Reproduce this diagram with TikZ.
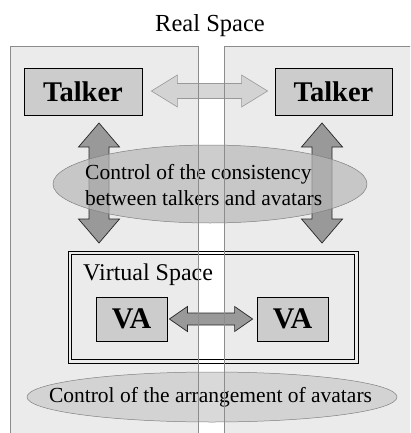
\documentclass[tikz,border=0pt]{standalone}
\usepackage{fontspec}
\setmainfont{Liberation Serif}
\usetikzlibrary{shapes.geometric,calc}

% horizontal two-headed block arrow: options, left tip, right tip,
% half shaft width, half head width, head length
\newcommand\harrow[6]{%
  \draw[#1] (#2) -- ($(#2)+(#6,#5)$) -- ($(#2)+(#6,#4)$) -- ($(#3)+(-#6,#4)$)
    -- ($(#3)+(-#6,#5)$) -- (#3) -- ($(#3)+(-#6,-#5)$) -- ($(#3)+(-#6,-#4)$)
    -- ($(#2)+(#6,-#4)$) -- ($(#2)+(#6,-#5)$) -- cycle;}
% vertical two-headed block arrow: options, top tip, bottom tip,
% half shaft width, half head width, head length
\newcommand\varrow[6]{%
  \draw[#1] (#2) -- ($(#2)+(#5,#6)$) -- ($(#2)+(#4,#6)$) -- ($(#3)+(#4,-#6)$)
    -- ($(#3)+(#5,-#6)$) -- (#3) -- ($(#3)+(-#5,-#6)$) -- ($(#3)+(-#4,-#6)$)
    -- ($(#2)+(-#4,#6)$) -- ($(#2)+(-#5,#6)$) -- cycle;}

\tikzset{
  panel/.style={fill=black!8, draw=none},
  panelline/.style={draw=black!45, line width=0.6pt},
  talkerbox/.style={draw=black, line width=0.8pt, fill=black!20,
    minimum width=118pt, minimum height=47pt, inner sep=0pt,
    font=\fontsize{28.5}{30}\selectfont\bfseries},
  vabox/.style={draw=black, line width=0.8pt, fill=black!20,
    minimum width=71pt, minimum height=44pt, inner sep=0pt,
    font=\fontsize{30}{32}\selectfont\bfseries},
  lightarrow/.style={fill=black!18, draw=black!40, line width=0.6pt, fill opacity=0.9},
  darkarrow/.style={fill=black!40, draw=black!85, line width=0.7pt},
  oval/.style={ellipse, draw=black!50, line width=0.5pt, inner sep=0pt},
  ovaltext/.style={font=\fontsize{21.5}{26}\selectfont, inner sep=0pt},
  spacebox/.style={draw=black, line width=0.7pt, inner sep=0pt},
  heading/.style={font=\fontsize{24.5}{28}\selectfont, inner sep=0pt},
}

\begin{document}
\begin{tikzpicture}[x=1pt, y=-1pt]
  \useasboundingbox (0,0) rectangle (410,433);
  \clip (0,0) rectangle (410,433);

  % the two real-space panels
  \path[panel] (10,46) rectangle (198,440);
  \path[panel] (224,46) rectangle (420,440);

  \node[heading, anchor=base] (real) at (210,32) {Real Space};

  % talkers
  \node[talkerbox] (talkerL) at (83,91.5) {Talker};
  \node[talkerbox, minimum width=117pt] (talkerR) at (333.5,91.5) {Talker};

  \coordinate (hl) at ($(talkerL.east)+(9,-0.5)$);
  \coordinate (hr) at ($(talkerR.west)+(-7,-0.5)$);
  \harrow{lightarrow}{hl}{hr}{7.5}{16}{26}

  % talker <-> avatar arrows
  \coordinate (vl1) at (99,123);
  \coordinate (vl2) at (99,243);
  \coordinate (vr1) at (322,123);
  \coordinate (vr2) at (322,243);
  \varrow{darkarrow}{vl1}{vl2}{10}{20.5}{24}
  \varrow{darkarrow}{vr1}{vr2}{10}{20.5}{24}

  % consistency control
  \node[oval, fill=black!28, fill opacity=0.7, minimum width=314pt, minimum height=78pt]
    (cons) at (210,184) {};
  \node[ovaltext, align=left, anchor=west] (constext) at (85,184.6)
    {Control of the consistency\\between talkers and avatars};

  % virtual space
  \node[spacebox, minimum width=290pt, minimum height=112pt] (vs) at (213,307) {};
  \draw[black, line width=0.7pt] ($(vs.north west)+(4,4)$) rectangle ($(vs.south east)+(-4,-4)$);
  \node[heading, font=\fontsize{24}{28}\selectfont, anchor=base west] (vstitle) at (83,280) {Virtual Space};

  \node[vabox] (vaL) at (131.5,319) {VA};
  \node[vabox] (vaR) at (292.5,319) {VA};
  \coordinate (al) at ($(vaL.east)+(2,0)$);
  \coordinate (ar) at ($(vaR.west)+(-4,0)$);
  \harrow{darkarrow}{al}{ar}{6}{12.5}{18}

  % arrangement control
  \node[oval, fill=black!20, fill opacity=0.75, minimum width=370pt, minimum height=50pt]
    (arr) at (212,397) {};
  \node[ovaltext, anchor=base] (arrtext) at (210.5,402) {Control of the arrangement of avatars};

  % panel outlines on top
  \draw[panelline] (10,440) -- (10,46) -- (198,46) -- (198,440);
  \draw[panelline] (420,46) -- (224,46) -- (224,440);
\end{tikzpicture}
\end{document}
